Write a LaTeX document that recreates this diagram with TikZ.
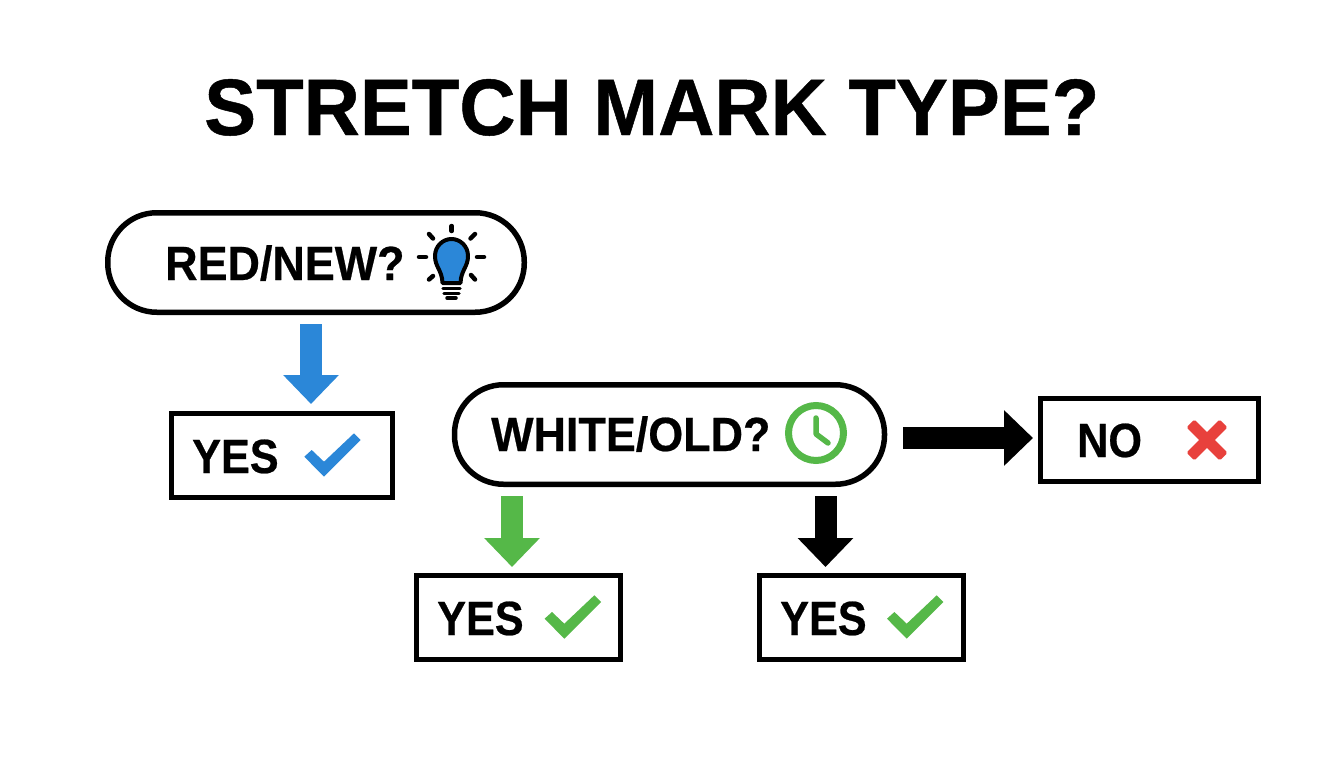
\documentclass[tikz,border=0pt]{standalone}
\usepackage{fontspec}
\setmainfont{Liberation Sans}
\newfontfamily\titlefont[FakeStretch=0.973,FakeBold=0.6]{Liberation Sans Bold}
\newfontfamily\labelfont[FakeStretch=0.9,FakeBold=0.5]{Liberation Sans Bold}
\newfontfamily\askfont[FakeStretch=0.935,FakeBold=0.5]{Liberation Sans Bold}
\usetikzlibrary{arrows.meta}
\definecolor{bluec}{HTML}{2B87D8}
\definecolor{greenc}{HTML}{55B848}
\definecolor{redc}{HTML}{E8413C}
\tikzset{
  pill/.style={draw=black,line width=5.5pt,fill=white,inner sep=0pt,rounded corners=49pt},
  result/.style={draw=black,line width=5pt,fill=white,inner sep=0pt},
  lab/.style={anchor=base west,inner sep=0pt,font=\labelfont\fontsize{48}{48}\selectfont},
  asklab/.style={anchor=base west,inner sep=0pt,font=\askfont\fontsize{48}{48}\selectfont},
  bigarrow/.style={line width=22pt,-{Triangle[width=54pt,length=29pt]}},
}
\newcommand{\checkicon}[3]{%
  \fill[#3,shift={(#1,#2)}] (0,0) -- (7.4,-6.7) -- (19.7,5) -- (49.7,-23.4) -- (56.4,-16.7) -- (19.7,20) -- cycle;}
\begin{document}
\begin{tikzpicture}[x=1pt,y=-1pt]
\useasboundingbox (0,0) rectangle (1344,768);
\fill[white] (0,0) rectangle (1344,768);

\node[anchor=base west,inner sep=0pt,font=\titlefont\fontsize{80}{80}\selectfont] (title) at (204,135) {STRETCH MARK TYPE?};

% decisions
\node[pill,minimum width=416.5pt,minimum height=99.5pt] (q1) at (316,262.5) {};
\node[pill,minimum width=430pt,minimum height=99.5pt] (q2) at (669.5,434.5) {};
\node[asklab] (q1t) at (165,280) {RED/NEW?};
\node[asklab] (q2t) at (491,451) {WHITE/OLD?};

% results
\node[result,minimum width=221pt,minimum height=84pt] (y1) at (282,455.5) {};
\node[result,minimum width=204pt,minimum height=84pt] (y2) at (518.5,617.5) {};
\node[result,minimum width=204pt,minimum height=84pt] (y3) at (861,617.5) {};
\node[result,minimum width=218pt,minimum height=83pt] (n1) at (1149.5,440) {};
\node[lab] (y1t) at (192,473) {YES};
\node[lab] (y2t) at (437,635) {YES};
\node[lab] (y3t) at (780,635) {YES};
\node[lab] (n1t) at (1077,457) {NO};

% connectors
\coordinate (ax1) at (311,0);
\coordinate (ax2) at (512,0);
\coordinate (ax3) at (825.5,0);
\coordinate (ay4) at (0,438);
\draw[bigarrow,bluec,shorten <=9pt,shorten >=7pt] (ax1 |- q1.south) -- (ax1 |- y1.north);
\draw[bigarrow,greenc,shorten <=9pt,shorten >=6pt] (ax2 |- q2.south) -- (ax2 |- y2.north);
\draw[bigarrow,black,shorten <=9pt,shorten >=6pt] (ax3 |- q2.south) -- (ax3 |- y3.north);
\draw[bigarrow,black,shorten <=16pt,shorten >=5pt] (q2.east |- ay4) -- (n1.west |- ay4);

% icons
\checkicon{304.3}{456.7}{bluec}
\checkicon{544.6}{618.7}{greenc}
\checkicon{887}{618.7}{greenc}

% cross
\begin{scope}[shift={(1207,440)}]
  \fill[redc,rounded corners=1.5pt,rotate=45] (-23.5,-5.5) rectangle (23.5,5.5);
  \fill[redc,rounded corners=1.5pt,rotate=-45] (-23.5,-5.5) rectangle (23.5,5.5);
\end{scope}

% bulb
\draw[black,line width=4pt,line join=round,fill=bluec] (442.5,283) .. controls (442,270) and (435,267) .. (435,256) .. controls (435,246) and (443,239) .. (451.5,239) .. controls (460,239) and (468,246) .. (468,256) .. controls (468,267) and (461,270) .. (460.5,283) -- cycle;
\begin{scope}[line width=4.5pt,line cap=round,black]
  \draw[line width=3.5pt] (443,288.5) -- (460,288.5);
  \draw[line width=3.5pt] (444,293.5) -- (459,293.5);
  \draw[line width=3.5pt] (447,298) -- (456,298);
  \draw (451.7,226) -- (451.7,231);
  \draw (419,257) -- (426,257);
  \draw (477,257) -- (484,257);
  \draw (429,234) -- (433,238.5);
  \draw (475,234) -- (470.5,238.5);
  \draw (429,279.5) -- (433,276);
  \draw (475,279.5) -- (471,275);
\end{scope}

% clock
\draw[greenc,line width=7pt] (816,433) circle (27.5);
\draw[greenc,line width=5.5pt,line cap=round,line join=round] (816,418) -- (816,434) -- (828,443);
\end{tikzpicture}
\end{document}
